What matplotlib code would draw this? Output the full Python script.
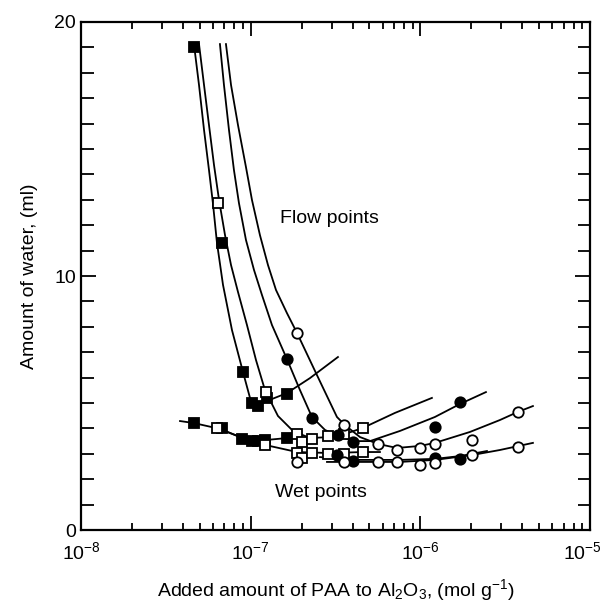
import matplotlib
matplotlib.use('Agg')
import matplotlib.pyplot as plt
import matplotlib.transforms as mtransforms
from matplotlib.ticker import LogLocator, MultipleLocator, NullFormatter

plt.rcParams['font.family'] = ['Liberation Sans', 'DejaVu Sans']
plt.rcParams['mathtext.fontset'] = 'custom'
plt.rcParams['mathtext.rm'] = 'Liberation Sans'
plt.rcParams['mathtext.it'] = 'Liberation Sans:italic'

# ---- flow point curves (lines) ----
fs_flow_line_x = [4.63e-8, 4.96e-8, 5.31e-8, 5.68e-8, 5.99e-8, 6.33e-8, 6.87e-8, 7.76e-8,
                  9.01e-8, 9.91e-8, 1.104e-7, 1.248e-7, 1.636e-7, 2.236e-7, 3.269e-7]
fs_flow_line_y = [19.13, 17.52, 15.75, 14.17, 12.87, 11.30, 9.65, 7.87,
                  6.22, 5.20, 4.88, 5.08, 5.39, 5.98, 6.81]
fs_flow_x = [4.63e-8, 6.78e-8, 9.01e-8, 1.018e-7, 1.104e-7, 1.248e-7, 1.636e-7]
fs_flow_y = [19.0, 11.3, 6.22, 5.0, 4.88, 5.2, 5.35]

os_flow_line_x = [4.96e-8, 5.31e-8, 5.68e-8, 6.08e-8, 6.51e-8, 7.06e-8, 7.66e-8, 8.42e-8,
                  9.51e-8, 1.075e-7, 1.214e-7, 1.448e-7, 1.776e-7, 2.236e-7, 2.933e-7,
                  3.595e-7, 4.59e-7, 7.087e-7, 1.17e-6]
os_flow_line_y = [19.13, 17.52, 15.94, 14.37, 12.99, 11.61, 10.43, 9.37,
                  8.07, 6.69, 5.51, 4.49, 3.90, 3.62, 3.66,
                  3.78, 4.02, 4.61, 5.20]
os_flow_x = [6.42e-8, 1.23e-7, 1.875e-7, 2.006e-7, 2.297e-7, 2.855e-7, 3.547e-7, 4.59e-7]
os_flow_y = [12.87, 5.43, 3.78, 3.46, 3.58, 3.70, 3.78, 4.02]

fc_flow_line_x = [6.59e-8, 6.96e-8, 7.45e-8, 7.97e-8, 8.53e-8, 9.38e-8, 1.046e-7, 1.166e-7,
                  1.335e-7, 1.636e-7, 1.952e-7, 2.297e-7, 2.741e-7, 3.359e-7, 4.174e-7,
                  5.047e-7, 7.584e-7, 1.219e-6, 1.711e-6, 2.436e-6]
fc_flow_line_y = [19.13, 17.52, 15.75, 14.17, 12.87, 11.42, 10.24, 9.25,
                  8.07, 6.73, 5.51, 4.45, 3.94, 3.66, 3.50,
                  3.50, 3.90, 4.45, 4.96, 5.43]
fc_flow_x = [1.636e-7, 2.297e-7, 3.269e-7, 4.008e-7, 1.219e-6, 1.711e-6]
fc_flow_y = [6.73, 4.40, 3.74, 3.48, 4.07, 5.05]

oc_flow_line_x = [7.15e-8, 7.66e-8, 8.42e-8, 9.38e-8, 1.018e-7, 1.134e-7, 1.265e-7, 1.41e-7,
                  1.636e-7, 1.875e-7, 2.458e-7, 3.225e-7, 3.595e-7, 4.406e-7, 5.625e-7,
                  7.282e-7, 9.945e-7, 1.219e-6, 1.96e-6, 2.945e-6, 3.76e-6, 4.609e-6]
oc_flow_line_y = [19.13, 17.52, 15.94, 14.29, 12.99, 11.61, 10.43, 9.45,
                  8.54, 7.76, 6.10, 4.45, 4.13, 3.66, 3.39,
                  3.23, 3.31, 3.43, 3.86, 4.33, 4.65, 4.88]
oc_flow_x = [1.875e-7, 3.547e-7, 5.625e-7, 7.28e-7, 9.95e-7, 1.219e-6, 2.014e-6, 3.76e-6]
oc_flow_y = [7.76, 4.13, 3.39, 3.15, 3.24, 3.37, 3.54, 4.65]

# ---- wet point curves ----
fs_wet_line_x = [3.833e-8, 4.63e-8, 6.59e-8, 9.01e-8, 1.214e-7, 1.636e-7, 1.952e-7]
fs_wet_line_y = [4.29, 4.21, 3.98, 3.62, 3.54, 3.62, 3.70]
fs_wet_x = [4.63e-8, 6.78e-8, 8.9e-8, 1.018e-7, 1.104e-7, 1.214e-7, 1.636e-7]
fs_wet_y = [4.21, 4.02, 3.58, 3.50, 3.50, 3.54, 3.62]

os_wet_line_x = [6.33e-8, 8.65e-8, 1.214e-7, 1.875e-7, 2.933e-7, 4.59e-7, 5.78e-7]
os_wet_line_y = [4.02, 3.66, 3.35, 3.07, 3.03, 3.07, 3.07]
os_wet_x = [6.33e-8, 1.214e-7, 1.875e-7, 2.006e-7, 2.297e-7, 2.855e-7, 3.547e-7, 4.59e-7]
os_wet_y = [4.02, 3.35, 3.03, 2.83, 3.03, 2.99, 2.99, 3.07]

fc_wet_line_x = [2.561e-7, 4.008e-7, 7.584e-7, 1.219e-6, 1.711e-6, 2.47e-6]
fc_wet_line_y = [2.87, 2.76, 2.76, 2.80, 2.91, 3.11]
fc_wet_x = [3.225e-7, 4.008e-7, 1.219e-6, 1.711e-6]
fc_wet_y = [2.95, 2.72, 2.83, 2.80]

oc_wet_line_x = [2.817e-7, 4.406e-7, 7.584e-7, 1.219e-6, 2.014e-6, 2.945e-6, 4.609e-6]
oc_wet_line_y = [2.68, 2.68, 2.68, 2.76, 2.95, 3.15, 3.43]
oc_wet_x = [1.875e-7, 3.547e-7, 5.625e-7, 7.282e-7, 9.945e-7, 1.219e-6, 2.014e-6, 3.76e-6]
oc_wet_y = [2.68, 2.68, 2.68, 2.68, 2.56, 2.64, 2.95, 3.27]

fig = plt.figure(figsize=(6.05, 6.06), dpi=100)
ax = fig.add_axes([0.1339, 0.1254, 0.8413, 0.8383])

lines = [(fs_flow_line_x, fs_flow_line_y), (os_flow_line_x, os_flow_line_y),
         (fc_flow_line_x, fc_flow_line_y), (oc_flow_line_x, oc_flow_line_y),
         (fs_wet_line_x, fs_wet_line_y), (os_wet_line_x, os_wet_line_y),
         (fc_wet_line_x, fc_wet_line_y), (oc_wet_line_x, oc_wet_line_y)]
for lx, ly in lines:
    ax.plot(lx, ly, color='black', lw=1.3, zorder=2, solid_joinstyle='round')

# markers: filled square, open square, filled circle, open circle
sq = dict(marker='s', ms=7, ls='none', mec='black', mew=1.3, zorder=3)
ci = dict(marker='o', ms=7.5, ls='none', mec='black', mew=1.3, zorder=3)
for mx, my in [(fs_flow_x, fs_flow_y), (fs_wet_x, fs_wet_y)]:
    ax.plot(mx, my, mfc='black', **sq)
for mx, my in [(os_flow_x, os_flow_y), (os_wet_x, os_wet_y)]:
    ax.plot(mx, my, mfc='white', **sq)
for mx, my in [(fc_flow_x, fc_flow_y), (fc_wet_x, fc_wet_y)]:
    ax.plot(mx, my, mfc='black', **ci)
for mx, my in [(oc_flow_x, oc_flow_y), (oc_wet_x, oc_wet_y)]:
    ax.plot(mx, my, mfc='white', **ci)

ax.text(2.93e-7, 12.28, 'Flow points', fontsize=14, ha='center', va='center')
ax.text(2.6e-7, 1.46, 'Wet points', fontsize=14, ha='center', va='center')

ax.set_xscale('log')
ax.set_xlim(1e-8, 1e-5)
ax.set_ylim(0, 20)
ax.set_xticks([1e-8, 1e-7, 1e-6, 1e-5])
ax.xaxis.set_minor_locator(LogLocator(base=10, subs=range(2, 10)))
ax.xaxis.set_minor_formatter(NullFormatter())
ax.set_yticks([0, 10, 20])
ax.yaxis.set_minor_locator(MultipleLocator(1))

ax.tick_params(which='both', direction='in', top=True, right=True, labelsize=14, width=1.3)
ax.tick_params(axis='y', which='major', length=11)
ax.tick_params(axis='y', which='minor', length=9)
ax.tick_params(axis='x', which='major', length=10, pad=8)
ax.tick_params(axis='x', which='minor', length=5)
for s in ax.spines.values():
    s.set_linewidth(1.6)

# pull the last x tick label a little inside the figure
last = ax.xaxis.get_majorticklabels()[-1]
last.set_transform(last.get_transform() +
                   mtransforms.ScaledTranslation(-8 / 100, 0, fig.dpi_scale_trans))

ax.set_xlabel('Added amount of PAA to Al$_2$O$_3$, (mol g$^{-1}$)', fontsize=14, labelpad=10)
ax.set_ylabel('Amount of water, (ml)', fontsize=14, labelpad=12)

fig.savefig('out.png', dpi=100)
